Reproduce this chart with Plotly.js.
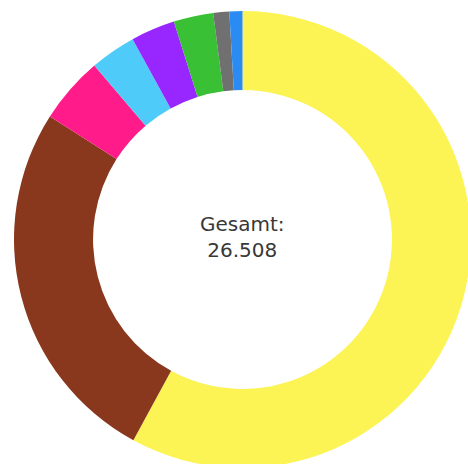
<!DOCTYPE html>
<html>
<head>
<meta charset="utf-8">
<script src="https://cdn.plot.ly/plotly-3.0.1.min.js"></script>
<style>
  html, body { margin: 0; padding: 0; width: 468px; height: 464px; overflow: hidden; background: #fff; }
  #chart { position: absolute; left: 14px; top: 11px; width: 457px; height: 457px; }
</style>
</head>
<body>
<div id="chart"></div>
<script>
const categories = ["Kategorie 1", "Kategorie 2", "Kategorie 3", "Kategorie 4", "Kategorie 5", "Kategorie 6", "Kategorie 7", "Kategorie 8"];
const values = [15355, 6923, 1254, 860, 829, 744, 299, 244];
const colors = ["#FCF355", "#89381E", "#FF1C8A", "#4FCBFA", "#9826FF", "#3AC034", "#707070", "#2A8CF2"];
const totalLabel = "Gesamt:";
const totalValue = "26.508";

const trace = {
  type: "pie",
  labels: categories,
  values: values,
  hole: 0.654,
  sort: false,
  direction: "clockwise",
  rotation: 0,
  textinfo: "none",
  hoverinfo: "label+value+percent",
  marker: { colors: colors, line: { width: 0 } },
  showlegend: false
};

const layout = {
  width: 457,
  height: 457,
  margin: { l: 0, r: 0, t: 0, b: 0, pad: 0 },
  paper_bgcolor: "#ffffff",
  plot_bgcolor: "#ffffff",
  showlegend: false,
  annotations: [{
    text: totalLabel + "<br>" + totalValue,
    x: 0.5, y: 0.505, xref: "paper", yref: "paper",
    showarrow: false,
    font: { family: "'DejaVu Sans', sans-serif", size: 20, color: "#383838" },
    align: "center"
  }]
};

Plotly.newPlot("chart", [trace], layout, { displayModeBar: false, staticPlot: true });
</script>
</body>
</html>
